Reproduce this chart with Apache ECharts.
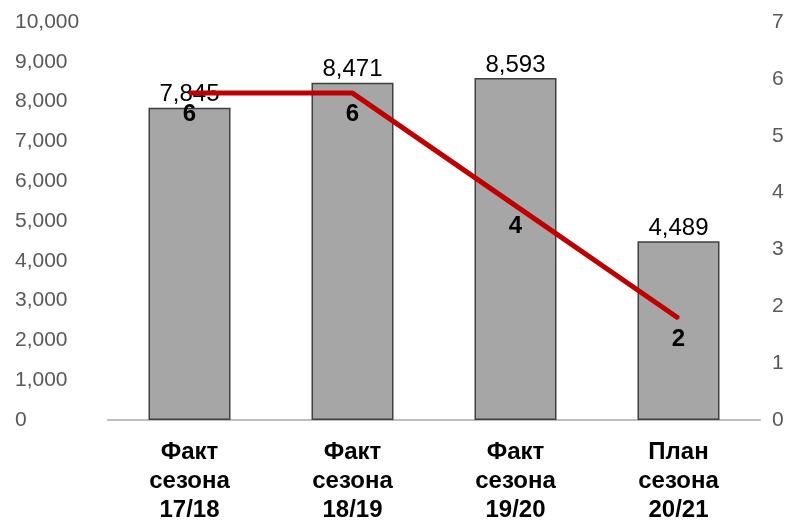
<!DOCTYPE html>
<html>
<head>
<meta charset="utf-8">
<script src="https://cdn.jsdelivr.net/npm/echarts@6/dist/echarts.min.js"></script>
<style>
html, body { margin: 0; padding: 0; background: #fff; }
#main { width: 789px; height: 522px; }
</style>
</head>
<body>
<div id="main"></div>
<script>
var categories = ['Факт\nсезона\n17/18', 'Факт\nсезона\n18/19', 'Факт\nсезона\n19/20', 'План\nсезона\n20/21'];
var barValues = [7845, 8471, 8593, 4489];
var lineValues = [5.75, 5.75, 3.77, 1.79];

var myChart = echarts.init(document.getElementById('main'));
var font = 'Liberation Sans, Arial, sans-serif';

var option = {
	backgroundColor: '#fff',
	animation: false,
	grid: {
		left: 108,
		right: 29,
		top: 22,
		bottom: 102,
		outerBoundsMode: 'none'
	},
	xAxis: {
		type: 'category',
		data: categories,
		axisLine: { lineStyle: { color: '#bfbfbf', width: 2 } },
		axisTick: { show: false },
		axisLabel: {
			color: '#000',
			fontFamily: font,
			fontWeight: 'bold',
			fontSize: 24,
			lineHeight: 29,
			margin: 18
		}
	},
	yAxis: [{
		type: 'value',
		min: 0,
		max: 10000,
		interval: 1000,
		splitLine: { show: false },
		axisLine: { show: false },
		axisLabel: {
			color: '#595959',
			fontFamily: font,
			fontSize: 21,
			align: 'left',
			margin: 93,
			formatter: function(v) {
				return v.toLocaleString('en-US');
			}
		}
	}, {
		type: 'value',
		min: 0,
		max: 7,
		interval: 1,
		splitLine: { show: false },
		axisLine: { show: false },
		axisLabel: {
			color: '#595959',
			fontFamily: font,
			fontSize: 21,
			align: 'left',
			margin: 12
		}
	}],
	series: [{
		type: 'bar',
		data: barValues,
		barWidth: 82,
		itemStyle: {
			color: '#a6a6a6',
			borderColor: '#404040',
			borderWidth: 1.5
		},
		label: {
			show: true,
			position: 'top',
			distance: 1,
			color: '#000',
			fontFamily: font,
			fontSize: 24,
			formatter: function(p) {
				return p.value.toLocaleString('en-US');
			}
		}
	}, {
		type: 'line',
		yAxisIndex: 1,
		data: lineValues,
		symbol: 'circle',
		symbolSize: 2,
		showSymbol: true,
		itemStyle: { color: '#c00000' },
		lineStyle: { color: '#c00000', width: 5 },
		z: 3,
		label: {
			show: true,
			position: 'bottom',
			distance: 8,
			color: '#000',
			fontFamily: font,
			fontWeight: 'bold',
			fontSize: 24,
			formatter: function(p) {
				return String(Math.round(p.value));
			}
		}
	}]
};
myChart.setOption(option);
</script>
</body>
</html>
